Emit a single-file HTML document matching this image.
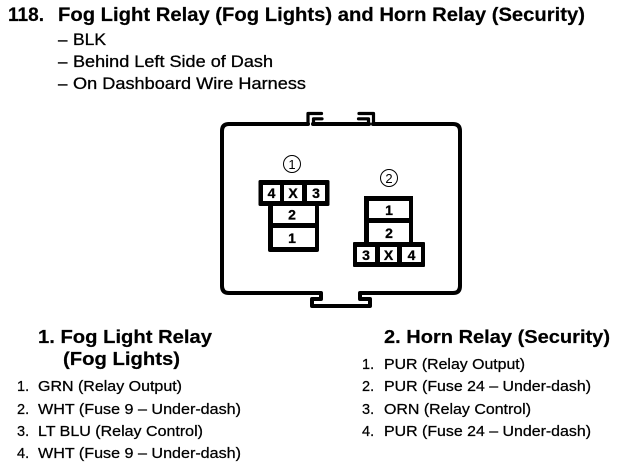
<!DOCTYPE html>
<html><head><meta charset="utf-8">
<style>
html,body{margin:0;padding:0;background:#fff}
svg{display:block}
text{font-family:"Liberation Sans",Arial,sans-serif;fill:#000}
.t{font-weight:bold;font-size:19.5px;stroke:#000;stroke-width:.2px}
.s{font-size:17px;stroke:#000;stroke-width:.3px}
.h{font-weight:bold;font-size:18px;stroke:#000;stroke-width:.2px}
.l{font-size:14.5px;stroke:#000;stroke-width:.25px}
.n{font-weight:bold;font-size:14px;text-anchor:middle;stroke:#000;stroke-width:.3px}
</style></head>
<body>
<svg width="624" height="468" viewBox="0 0 624 468" xmlns="http://www.w3.org/2000/svg">
<rect width="624" height="468" fill="#fff"/>
<text class="t" x="8" y="21" textLength="36" lengthAdjust="spacingAndGlyphs">118.</text>
<text class="t" x="58" y="21" textLength="527" lengthAdjust="spacingAndGlyphs">Fog Light Relay (Fog Lights) and Horn Relay (Security)</text>
<text class="s" x="58" y="45">–</text><text class="s" x="73" y="45" textLength="33" lengthAdjust="spacingAndGlyphs">BLK</text>
<text class="s" x="58" y="67">–</text><text class="s" x="73" y="67" textLength="200" lengthAdjust="spacingAndGlyphs">Behind Left Side of Dash</text>
<text class="s" x="58" y="89">–</text><text class="s" x="73" y="89" textLength="233" lengthAdjust="spacingAndGlyphs">On Dashboard Wire Harness</text>

<g fill="none" stroke="#000" stroke-width="4" stroke-linejoin="round" stroke-linecap="round">
<path d="M229,124 Q222,124 222,131 V286 Q222,293 229,293 H321 V299 H312 V306 H370 V299 H360 V293 H453 Q460,293 460,286 V131 Q460,124 453,124 H373"/>
<path d="M229,124 H308"/>
<path d="M313,124 H369"/>
</g>
<g fill="none" stroke="#000" stroke-width="3.2" stroke-linejoin="round" stroke-linecap="round">
<path d="M308,124 V113.500 H321.500"/>
<path d="M322,118.800 H313.500 V124"/>
<path d="M373.500,124 V113.500 H359"/>
<path d="M358.500,118.800 H368.500 V124"/>
</g>

<g fill="#000">
<rect x="258.5" y="180" width="71" height="26" rx="1.500"/>
<rect x="268" y="205" width="51" height="47" rx="2"/>
<rect x="353" y="242" width="72" height="25" rx="1"/>
<rect x="364" y="196" width="49" height="47"/>
</g>
<g fill="#fff">
<rect x="263" y="185" width="17" height="16"/><rect x="284" y="185" width="18" height="16"/><rect x="307" y="185" width="18" height="16"/>
<rect x="273" y="206" width="42" height="17"/><rect x="273" y="228" width="42" height="19"/>
<rect x="369" y="201" width="40" height="17"/><rect x="369" y="223" width="40" height="19"/>
<rect x="357" y="247" width="18" height="15"/><rect x="380" y="247" width="17" height="15"/><rect x="402" y="247" width="19" height="15"/>
</g>
<text class="n" x="271.5" y="198">4</text><text class="n" x="293" y="198">X</text><text class="n" x="316" y="198">3</text>
<text class="n" x="292" y="219.500">2</text><text class="n" x="292" y="243">1</text>
<text class="n" x="389" y="215">1</text><text class="n" x="389" y="238">2</text>
<text class="n" x="366" y="260">3</text><text class="n" x="388.500" y="260">X</text><text class="n" x="411.500" y="260">4</text>

<circle cx="292" cy="164" r="8.500" fill="none" stroke="#000" stroke-width="1"/>
<text x="292" y="169" font-size="13" text-anchor="middle">1</text>
<circle cx="389" cy="178" r="8.500" fill="none" stroke="#000" stroke-width="1"/>
<text x="389" y="183" font-size="13" text-anchor="middle">2</text>

<text class="h" x="38" y="343" textLength="174" lengthAdjust="spacingAndGlyphs">1. Fog Light Relay</text>
<text class="h" x="63" y="365" textLength="117" lengthAdjust="spacingAndGlyphs">(Fog Lights)</text>
<text class="h" x="384" y="343" textLength="226" lengthAdjust="spacingAndGlyphs">2. Horn Relay (Security)</text>

<text class="l" x="17" y="391">1.</text><text class="l" x="38" y="391" textLength="144" lengthAdjust="spacingAndGlyphs">GRN (Relay Output)</text>
<text class="l" x="17" y="414">2.</text><text class="l" x="38" y="414" textLength="203" lengthAdjust="spacingAndGlyphs">WHT (Fuse 9 – Under-dash)</text>
<text class="l" x="17" y="436">3.</text><text class="l" x="38" y="436" textLength="165" lengthAdjust="spacingAndGlyphs">LT BLU (Relay Control)</text>
<text class="l" x="17" y="458">4.</text><text class="l" x="38" y="458" textLength="203" lengthAdjust="spacingAndGlyphs">WHT (Fuse 9 – Under-dash)</text>

<text class="l" x="362" y="369">1.</text><text class="l" x="384" y="369" textLength="141" lengthAdjust="spacingAndGlyphs">PUR (Relay Output)</text>
<text class="l" x="362" y="391">2.</text><text class="l" x="384" y="391" textLength="207" lengthAdjust="spacingAndGlyphs">PUR (Fuse 24 – Under-dash)</text>
<text class="l" x="362" y="414">3.</text><text class="l" x="384" y="414" textLength="147" lengthAdjust="spacingAndGlyphs">ORN (Relay Control)</text>
<text class="l" x="362" y="436">4.</text><text class="l" x="384" y="436" textLength="207" lengthAdjust="spacingAndGlyphs">PUR (Fuse 24 – Under-dash)</text>
</svg>
</body></html>
